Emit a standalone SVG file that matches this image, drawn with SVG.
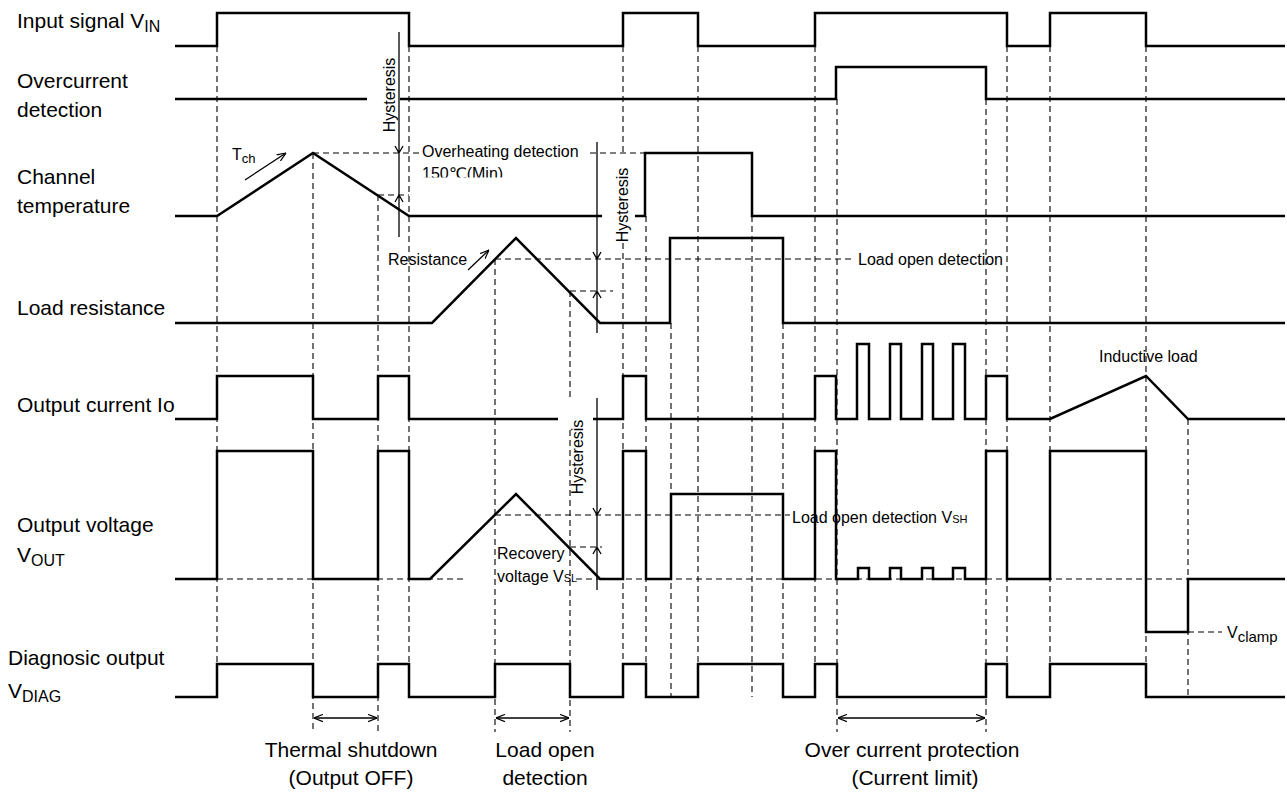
<svg xmlns="http://www.w3.org/2000/svg" width="1287" height="793" viewBox="0 0 1287 793">
<style>
text{font-family:"Liberation Sans",Arial,"DejaVu Sans",sans-serif;fill:#000}
.lb{font-size:21px}
.an{font-size:16px}
.bt{font-size:21px}
.sig{fill:none;stroke:#000;stroke-width:2.5;stroke-linejoin:miter}
.dv{fill:none;stroke:#000;stroke-width:1.1;stroke-dasharray:6,4}
.thin{fill:none;stroke:#000;stroke-width:1.3}
</style>
<defs>
<marker id="ah" viewBox="0 0 10 10" refX="10" refY="5" markerWidth="9" markerHeight="9" markerUnits="userSpaceOnUse" orient="auto-start-reverse">
<path d="M0,1 L10,5 L0,9" fill="none" stroke="#000" stroke-width="1.3"/>
</marker>
<clipPath id="clip150"><rect x="400" y="160" width="200" height="17.5"/></clipPath>
</defs>
<rect width="1287" height="793" fill="#fff"/>

<g id="guides">
<path class="dv" d="M217,46V664 M313,153V732 M378,195V732 M409,46V664 M495,259V732 M570,291V397 M570,430V732 M623,46V153 M623,243V664 M646,216V664 M671,323V697 M698,46V664 M752,216V697 M783,323V664 M815,46V664 M837,99V732 M986,99V732 M1007,46V664 M1050,46V664 M1146,46V664 M1188,419V697"/>
<path class="dv" d="M313,153H420 M590,153H645 M378,195H409 M495,259H855 M570,291H613 M495,515H790 M570,547H602 M217,579H467 M576,579H1188 M1188,632H1222"/>
</g>

<g id="connectors">
<path class="thin" d="M399,32V237 M395,146L399,153L403,146 M395,202L399,195L403,202"/>
<path class="thin" d="M597,142V333 M593,252L597,259L601,252 M593,298L597,291L601,298"/>
<path class="thin" d="M597,398V590 M593,508L597,515L601,508 M593,554L597,547L601,554"/>
<line class="thin" x1="245" y1="180" x2="286" y2="153" marker-end="url(#ah)"/>
<line class="thin" x1="468" y1="270" x2="489" y2="250" marker-end="url(#ah)"/>
<line class="thin" x1="314" y1="718" x2="377" y2="718" marker-start="url(#ah)" marker-end="url(#ah)"/>
<line class="thin" x1="496" y1="718" x2="569" y2="718" marker-start="url(#ah)" marker-end="url(#ah)"/>
<line class="thin" x1="838" y1="718" x2="985" y2="718" marker-start="url(#ah)" marker-end="url(#ah)"/>
</g>

<g id="sig-input">
<text class="lb" x="17" y="28">Input signal V<tspan font-size="16" dy="4">IN</tspan></text>
<path class="sig" d="M175,46H217V13H409V46H623V13H698V46H815V13H1007V46H1050V13H1146V46H1285"/>
</g>

<g id="sig-overcurrent">
<text class="lb" x="17" y="88">Overcurrent</text>
<text class="lb" x="17" y="117">detection</text>
<path class="sig" d="M175,99H367 M400,99H836V67H986V99H1285"/>
</g>

<g id="sig-temperature">
<text class="lb" x="17" y="184">Channel</text>
<text class="lb" x="17" y="213">temperature</text>
<path class="sig" d="M175,216H217L313,153L409,216H602 M635,216H645V153H752V216H1285"/>
</g>

<g id="sig-resistance">
<text class="lb" x="17" y="315">Load resistance</text>
<path class="sig" d="M175,323H432L516,238L600,323H670V238H783V323H1285"/>
</g>

<g id="sig-current">
<text class="lb" x="17" y="412">Output current Io</text>
<path class="sig" d="M175,419H217V376H313V419H378V376H409V419H558 M593,419H623V376H646V419H815V376H836V419H857V344H869V419H890V344H901V419H922V344H933V419H953V344H965V419H986V376H1007V419H1050L1146,376L1188,419H1285"/>
</g>

<g id="sig-voltage">
<text class="lb" x="17" y="532">Output voltage</text>
<text class="lb" x="17" y="562">V<tspan font-size="16" dy="4">OUT</tspan></text>
<path class="sig" d="M175,579H217V451H313V579H378V451H409V579H430L516,494L600,579H623V451H646V579H671V494H783V579H815V451H836V579H858V568H869V579H890V568H901V579H922V568H933V579H953V568H965V579H986V451H1007V579H1050V451H1146V632H1188V579H1285"/>
</g>

<g id="sig-diag">
<text class="lb" x="8" y="665">Diagnosic output</text>
<text class="lb" x="8" y="698">V<tspan font-size="16" dy="4">DIAG</tspan></text>
<path class="sig" d="M175,697H217V664H313V697H378V664H409V697H495V664H570V697H623V664H646V697H698V664H783V697H815V664H837V697H986V664H1007V697H1050V664H1146V697H1285"/>
</g>

<g id="annotations">
<text class="an" transform="translate(395,95) rotate(-90)" text-anchor="middle">Hysteresis</text>
<text class="an" transform="translate(628,205) rotate(-90)" text-anchor="middle">Hysteresis</text>
<text class="an" transform="translate(583,457) rotate(-90)" text-anchor="middle">Hysteresis</text>
<text class="an" x="232" y="160">T<tspan font-size="13" dy="3">ch</tspan></text>
<text class="an" x="422" y="157">Overheating detection</text>
<text class="an" x="422" y="179" clip-path="url(#clip150)">150℃(Min)</text>
<text class="an" x="388" y="265">Resistance</text>
<text class="an" x="858" y="265">Load open detection</text>
<text class="an" x="1099" y="362">Inductive load</text>
<text class="an" x="792" y="523">Load open detection V<tspan font-size="11">SH</tspan></text>
<text class="an" x="497" y="559">Recovery</text>
<text class="an" x="497" y="582">voltage V<tspan font-size="11">SL</tspan></text>
<text class="an" x="1227" y="638">V<tspan font-size="15" dy="4">clamp</tspan></text>
<text class="bt" x="351" y="757" text-anchor="middle">Thermal shutdown</text>
<text class="bt" x="351" y="785" text-anchor="middle">(Output OFF)</text>
<text class="bt" x="545" y="757" text-anchor="middle">Load open</text>
<text class="bt" x="545" y="785" text-anchor="middle">detection</text>
<text class="bt" x="912" y="757" text-anchor="middle">Over current protection</text>
<text class="bt" x="915" y="785" text-anchor="middle">(Current limit)</text>
</g>
</svg>
